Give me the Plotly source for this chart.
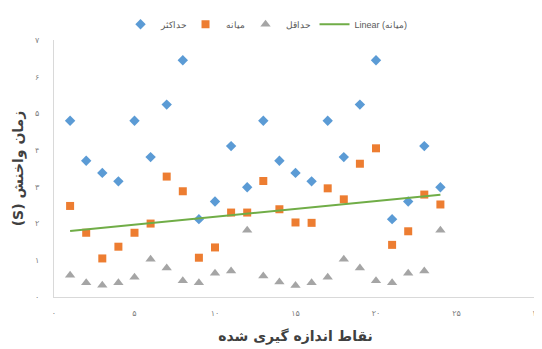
import numpy as np
import plotly.graph_objects as go

points = list(range(1, 25))
maximum = [4.80, 3.71, 3.38, 3.15, 4.80, 3.81, 5.24, 6.45, 2.12, 2.60, 4.11, 2.99,
           4.80, 3.71, 3.38, 3.15, 4.80, 3.81, 5.24, 6.45, 2.12, 2.60, 4.11, 2.99]
median = [2.48, 1.75, 1.05, 1.37, 1.75, 2.00, 3.28, 2.88, 1.07, 1.35, 2.30, 2.30,
          3.16, 2.39, 2.03, 2.02, 2.96, 2.66, 3.63, 4.05, 1.42, 1.79, 2.79, 2.52]
minimum = [0.59, 0.39, 0.32, 0.39, 0.54, 1.03, 0.79, 0.44, 0.39, 0.65, 0.71, 1.82,
           0.57, 0.41, 0.31, 0.39, 0.54, 1.03, 0.79, 0.44, 0.39, 0.65, 0.71, 1.82]

x_ticks = [0, 5, 10, 15, 20, 25, 30]
x_tick_text = ["۰", "۵", "۱۰", "۱۵", "۲۰", "۲۵", "۳۰"]
y_ticks = [0, 1, 2, 3, 4, 5, 6, 7]
y_tick_text = ["۰", "۱", "۲", "۳", "۴", "۵", "۶", "۷"]

names = ["حداکثر", "میانه", "حداقل", "Linear (میانه)"]

slope, intercept = np.polyfit(points, median, 1)
trend_x = [points[0], points[-1]]
trend_y = [slope * v + intercept for v in trend_x]

fig = go.Figure()
fig.add_trace(go.Scatter(x=points, y=maximum, mode="markers", name=names[0], legendwidth=20,
                         marker=dict(symbol="diamond", size=8, color="#5B9BD5")))
fig.add_trace(go.Scatter(x=points, y=median, mode="markers", name=names[1], legendwidth=15,
                         marker=dict(symbol="square", size=8, color="#ED7D31")))
fig.add_trace(go.Scatter(x=points, y=minimum, mode="markers", name=names[2], legendwidth=24,
                         marker=dict(symbol="triangle-up", size=9, color="#A5A5A5")))
fig.add_trace(go.Scatter(x=trend_x, y=trend_y, mode="lines", name=names[3],
                         line=dict(color="#70AD47", width=2)))

axis_font = dict(family="DejaVu Sans", size=8, color="#7F7F7F")
title_font = dict(family="DejaVu Sans", size=14, color="#404040")

# the page body adds an 8px margin, so the figure is sized to the remaining area
fig.update_layout(
    width=534, height=341,
    margin=dict(l=46, r=5, t=32, b=52),
    plot_bgcolor="white", paper_bgcolor="white",
    showlegend=True,
    legend=dict(orientation="h", x=0.44, xanchor="center", y=0.995, yanchor="top",
                yref="container", font=dict(family="Liberation Sans", size=9, color="#595959"),
                itemwidth=30, traceorder="normal"),
    xaxis=dict(range=[0, 30], tickvals=x_ticks, ticktext=x_tick_text, automargin=False,
               showgrid=False, zeroline=False, showline=True, linecolor="#D9D9D9",
               linewidth=1, tickfont=axis_font, ticklabelstandoff=8,
               title=dict(text="<b>نقاط اندازه گیری شده</b>", font=title_font, standoff=14)),
    yaxis=dict(range=[0, 7], tickvals=y_ticks, ticktext=y_tick_text, automargin=False,
               showgrid=False, zeroline=False, showline=True, linecolor="#D9D9D9",
               linewidth=1, tickfont=axis_font, ticklabelstandoff=12,
               title=dict(text="<b>(S) زمان واخنش</b>", font=title_font, standoff=8)),
)

fig.write_html("out.html")
